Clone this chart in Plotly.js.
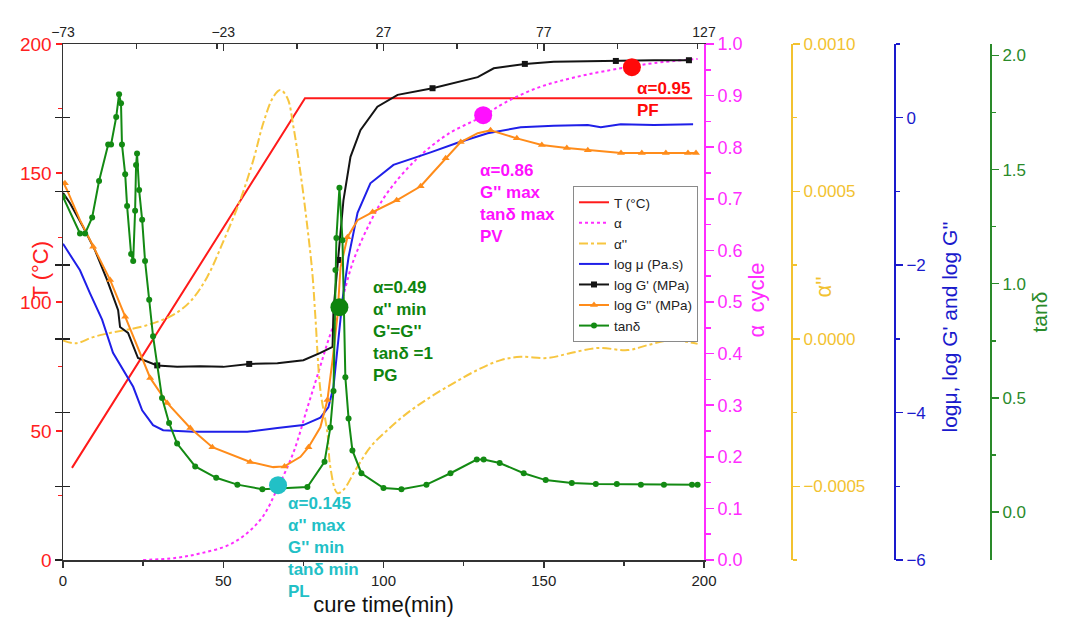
<!DOCTYPE html>
<html>
<head>
<meta charset="utf-8">
<script src="https://cdn.plot.ly/plotly-3.0.1.min.js"></script>
<style>html,body{margin:0;padding:0;background:#fff;}#chart{width:1067px;height:628px;}</style>
</head>
<body>
<div id="chart"></div>
<script>
// ---- data ----
const tempT = [2.8, 75.5, 196.3];
const tempV = [35.7, 179, 179];

const alphaT = [25, 35, 43, 53, 61.6, 67, 72, 76, 80, 83, 86.4, 90.6, 95.9, 101, 110, 120, 131, 137.5, 148, 159.4, 174, 184.4, 198];
const alphaV = [0, 0.004, 0.013, 0.033, 0.078, 0.14, 0.21, 0.29, 0.37, 0.43, 0.49, 0.58, 0.655, 0.71, 0.775, 0.825, 0.86, 0.885, 0.915, 0.935, 0.953, 0.963, 0.971];

const alpha2T = [0, 4, 9.4, 14.7, 24.1, 30, 35, 40, 45, 50, 55.3, 59.4, 62.5, 65.6, 67.8, 70, 71.9, 74.1, 76.25, 77.8, 78.75, 80.3, 82.5, 83.4, 85.6, 87.5, 91.25, 95.9, 101.25, 107.5, 114.7, 121.9, 129.4, 136.6, 142.8, 151.25, 158.4, 166.9, 176.25, 182.5, 189.7, 195, 198];
const alpha2V = [-0.05e-4, -0.15e-4, 0.06e-4, 0.20e-4, 0.40e-4, 0.60e-4, 0.85e-4, 1.30e-4, 2.10e-4, 3.30e-4, 4.71e-4, 6.07e-4, 7.32e-4, 8.20e-4, 8.44e-4, 8.17e-4, 7.19e-4, 5.63e-4, 3.79e-4, 2.23e-4, 0.74e-4, -1.73e-4, -3.19e-4, -4.34e-4, -5.23e-4, -5.12e-4, -4.45e-4, -3.67e-4, -3.09e-4, -2.51e-4, -1.97e-4, -1.50e-4, -1.05e-4, -0.72e-4, -0.61e-4, -0.65e-4, -0.48e-4, -0.31e-4, -0.38e-4, -0.21e-4, -0.04e-4, -0.11e-4, -0.17e-4];

const muT = [0, 3.1, 5.3, 8.4, 12.2, 15.6, 18.75, 21.9, 24.7, 28.1, 31.25, 40.6, 49, 57.5, 66.9, 75, 80.3, 82.8, 84.4, 85.9, 87.2, 89.1, 91.9, 95.9, 103.1, 114.7, 123.1, 132.5, 142.8, 153.1, 163.75, 167.8, 174, 184.4, 196.6];
const muV = [-1.71, -1.93, -2.07, -2.38, -2.74, -3.19, -3.42, -3.65, -3.97, -4.17, -4.24, -4.26, -4.26, -4.26, -4.21, -4.17, -4.07, -3.93, -3.65, -3.02, -2.47, -1.89, -1.29, -0.89, -0.64, -0.47, -0.34, -0.21, -0.13, -0.11, -0.10, -0.13, -0.09, -0.10, -0.09];

const gpT = [0, 2.2, 6.25, 10, 13.75, 17.2, 17.8, 20.3, 23.4, 29.4, 35.6, 42.8, 50, 58.1, 66.9, 75, 80.3, 84.1, 84.4, 85.9, 87.5, 89.7, 92.8, 98.1, 104.4, 115.3, 121.9, 129.4, 134.4, 144.1, 153.1, 163.75, 172.5, 184.4, 195.3];
const gpV = [-1.02, -1.16, -1.48, -1.80, -2.20, -2.61, -2.84, -2.92, -3.26, -3.36, -3.38, -3.37, -3.38, -3.34, -3.33, -3.29, -3.19, -3.11, -2.61, -1.93, -1.12, -0.53, -0.17, 0.15, 0.31, 0.40, 0.47, 0.55, 0.67, 0.73, 0.76, 0.77, 0.77, 0.78, 0.78];
const gpMarkT = [29.4, 58.1, 85.9, 115.3, 144.1, 172.5, 195.3];
const gpMarkV = [-3.36, -3.34, -1.93, 0.40, 0.73, 0.77, 0.78];

const gppT = [0, 1.25, 5.3, 9.4, 14.7, 19.4, 24.1, 27.2, 32.5, 39.7, 46.6, 58.4, 65.6, 69.1, 74.1, 76.6, 80.3, 82.5, 84.1, 85.6, 86.6, 88.75, 91.9, 96.6, 104.1, 111.6, 115.3, 119.4, 124.1, 129.4, 133.4, 141.6, 149.4, 157.2, 163.75, 174.1, 180.6, 188.1, 195, 197.5];
const gppV = [-0.87, -0.98, -1.39, -1.75, -2.20, -2.70, -3.19, -3.53, -3.87, -4.21, -4.47, -4.67, -4.74, -4.73, -4.60, -4.47, -4.20, -3.83, -3.29, -2.70, -2.03, -1.62, -1.39, -1.28, -1.12, -0.93, -0.75, -0.55, -0.33, -0.21, -0.17, -0.28, -0.37, -0.41, -0.44, -0.48, -0.48, -0.48, -0.48, -0.48];
const gppMarkT = [0.6, 9.4, 14.7, 19.4, 27.2, 32.5, 39.7, 46.6, 58.4, 69.1, 76.6, 82.5, 88.75, 96.6, 104.1, 111.6, 119.4, 124.1, 133.4, 141.6, 149.4, 157.2, 163.75, 174.1, 180.6, 188.1, 195, 197.5];
const gppMarkV = [-0.89, -1.75, -2.20, -2.70, -3.53, -3.87, -4.21, -4.47, -4.67, -4.73, -4.47, -3.83, -1.62, -1.28, -1.12, -0.93, -0.55, -0.33, -0.17, -0.28, -0.37, -0.41, -0.44, -0.48, -0.48, -0.48, -0.48, -0.48];

const tanT = [0, 5.3, 6.9, 9.1, 11.25, 14.1, 15, 16.6, 17.5, 18.1, 18.4, 19.4, 20, 21.25, 21.9, 22.5, 22.8, 23.1, 23.75, 24.7, 25.6, 26.9, 28.1, 30.9, 33.1, 35.6, 41.25, 47.8, 54.4, 62.2, 76.25, 81.6, 83.4, 84.4, 85, 85.3, 86.25, 87.2, 88.1, 89.1, 90.3, 93.1, 100, 105.6, 113.4, 120.9, 129.1, 131.25, 136.25, 143.75, 150.6, 158.75, 166.25, 172.8, 180.3, 187.5, 196.25, 198];
const tanV = [1.38, 1.22, 1.22, 1.29, 1.45, 1.61, 1.61, 1.73, 1.83, 1.79, 1.61, 1.48, 1.34, 1.13, 1.10, 1.32, 1.52, 1.57, 1.41, 1.28, 1.10, 0.93, 0.77, 0.50, 0.39, 0.30, 0.20, 0.15, 0.12, 0.10, 0.11, 0.22, 0.37, 0.53, 1.06, 1.20, 1.42, 1.19, 0.59, 0.41, 0.27, 0.17, 0.105, 0.10, 0.12, 0.17, 0.23, 0.23, 0.215, 0.17, 0.14, 0.127, 0.123, 0.123, 0.12, 0.12, 0.12, 0.12];

// key points (on the alpha scale)
const keyT = [67.1, 86.25, 131.1, 177.5];
const keyA = [0.145, 0.49, 0.862, 0.955];
const keyColors = ['#22c0c6', '#0e840e', '#ff10ff', '#ff0a0a'];

const legendNames = ['T (°C)', 'α', "α''", 'log μ (Pa.s)', "log G' (MPa)", "log G'' (MPa)", 'tanδ'];
const logTickVals = [-6, -5, -4, -3, -2, -1, 0];

// ---- styles ----
const C = {
  red: '#ff1a1a', mag: '#ff2cff', yel: '#f7c640', blue: '#1f1fe8', black: '#141414',
  orange: '#ff8c1a', green: '#138a13',
  yelAxis: '#f2c230', blueAxis: '#1a1acc', greenAxis: '#2a8a2a'
};
const FONT = 'Liberation Sans, Arial, Helvetica, sans-serif';

const traces = [
  {x: tempT, y: tempV, xaxis: 'x', yaxis: 'y', mode: 'lines', name: legendNames[0], line: {color: C.red, width: 2}},
  {x: alphaT, y: alphaV, xaxis: 'x', yaxis: 'y2', mode: 'lines', name: legendNames[1], line: {color: C.mag, width: 2, dash: 'dot', shape: 'spline'}},
  {x: alpha2T, y: alpha2V, xaxis: 'x', yaxis: 'y3', mode: 'lines', name: legendNames[2], line: {color: C.yel, width: 2, dash: 'dashdot', shape: 'spline'}},
  {x: muT, y: muV, xaxis: 'x', yaxis: 'y4', mode: 'lines', name: legendNames[3], line: {color: C.blue, width: 2}},
  {x: gpT, y: gpV, xaxis: 'x', yaxis: 'y4', mode: 'lines', showlegend: false, line: {color: C.black, width: 2}},
  {x: gpMarkT, y: gpMarkV, xaxis: 'x', yaxis: 'y4', mode: 'markers', showlegend: false, marker: {color: C.black, size: 6, symbol: 'square'}},
  {x: [null], y: [null], xaxis: 'x', yaxis: 'y4', mode: 'lines+markers', name: legendNames[4], line: {color: C.black, width: 2}, marker: {color: C.black, size: 6, symbol: 'square'}},
  {x: gppT, y: gppV, xaxis: 'x', yaxis: 'y4', mode: 'lines', showlegend: false, line: {color: C.orange, width: 2}},
  {x: gppMarkT, y: gppMarkV, xaxis: 'x', yaxis: 'y4', mode: 'markers', showlegend: false, marker: {color: C.orange, size: 7, symbol: 'triangle-up'}},
  {x: [null], y: [null], xaxis: 'x', yaxis: 'y4', mode: 'lines+markers', name: legendNames[5], line: {color: C.orange, width: 2}, marker: {color: C.orange, size: 7, symbol: 'triangle-up'}},
  {x: tanT, y: tanV, xaxis: 'x', yaxis: 'y5', mode: 'lines+markers', name: legendNames[6], line: {color: C.green, width: 2}, marker: {color: C.green, size: 6}},
  {x: keyT, y: keyA, xaxis: 'x', yaxis: 'y8', mode: 'markers', showlegend: false, marker: {color: keyColors, size: 18}},
  {x: [null], y: [null], xaxis: 'x2', yaxis: 'y', mode: 'lines', showlegend: false},
  {x: [null], y: [null], xaxis: 'x', yaxis: 'y6', mode: 'lines', showlegend: false},
  {x: [null], y: [null], xaxis: 'x', yaxis: 'y7', mode: 'lines', showlegend: false}
];

const W = 1067, ML = 63, MR = 30;
const PW = W - ML - MR;
const px = v => (v - ML) / PW;            // pixel x -> paper
const py = v => (560 - v) / 516;          // pixel y -> paper
const xEnd = px(704);

function rightAxis(color, pos, range, dtick, minor, fmt, extra) {
  return Object.assign({
    overlaying: 'y', side: 'right', anchor: 'free', position: pos, range: range,
    showline: true, linecolor: color, linewidth: 2, ticks: 'outside', ticklen: 7, tickwidth: 1.5, tickcolor: color,
    dtick: dtick, tick0: 0, tickformat: fmt, showgrid: false, zeroline: false,
    minor: {dtick: minor, ticks: 'outside', ticklen: 4, tickcolor: color, tickwidth: 1.5},
    tickfont: {family: FONT, size: 17, color: color}
  }, extra || {});
}

const layout = {
  width: 1067, height: 628,
  margin: {l: ML, r: MR, t: 44, b: 68},
  paper_bgcolor: '#fff', plot_bgcolor: '#fff',
  font: {family: FONT},
  showlegend: true,
  legend: {x: px(573), y: py(186), xanchor: 'left', yanchor: 'top', bgcolor: '#fff', bordercolor: '#8a8a8a', borderwidth: 1,
           font: {family: FONT, size: 13.5, color: '#222'}, tracegroupgap: 0, itemwidth: 30},
  xaxis: {domain: [0, xEnd], range: [0, 200], anchor: 'y', showline: true, linecolor: '#333', linewidth: 1.5,
          ticks: 'outside', ticklen: 6, tickcolor: '#333', tickwidth: 1.5, dtick: 50, tick0: 0,
          minor: {dtick: 25, ticks: 'outside', ticklen: 4, tickcolor: '#333'},
          tickfont: {family: FONT, size: 15, color: '#222'}, showgrid: false, zeroline: false,
          title: {text: 'cure time(min)', font: {family: FONT, size: 22, color: '#111'}, standoff: 9}},
  xaxis2: {overlaying: 'x', side: 'top', anchor: 'y', range: [-73, 127], tick0: -73, dtick: 50,
           showline: true, linecolor: '#333', linewidth: 1.5, ticks: 'inside', ticklen: 7, tickcolor: '#333', tickwidth: 1.5,
           minor: {dtick: 25, ticks: 'inside', ticklen: 5, tickcolor: '#333'},
           tickfont: {family: FONT, size: 14, color: '#222'}, showgrid: false, zeroline: false},
  yaxis: {range: [0, 200], side: 'left', showline: true, linecolor: '#333', linewidth: 1.5,
          ticks: 'outside', ticklen: 6, tickcolor: '#ff2020', tickwidth: 1.5, dtick: 50, tick0: 0,
          minor: {dtick: 25, ticks: 'outside', ticklen: 4, tickcolor: '#ff2020'},
          tickfont: {family: FONT, size: 19, color: '#ff2020'}, showgrid: false, zeroline: false},
  yaxis2: {overlaying: 'y', side: 'right', anchor: 'x', range: [0, 1], dtick: 0.1, tick0: 0, tickformat: '.1f',
           showline: true, linecolor: '#ff2cff', linewidth: 2, ticks: 'outside', ticklen: 8, tickcolor: '#ff2cff', tickwidth: 1.5,
           minor: {dtick: 0.05, ticks: 'outside', ticklen: 5, tickcolor: '#ff2cff'},
           tickfont: {family: FONT, size: 18, color: '#ff2cff'}, showgrid: false, zeroline: false},
  yaxis3: rightAxis(C.yelAxis, px(792), [-0.00075, 0.001], 0.0005, 0.00025, '.4f'),
  yaxis4: rightAxis(C.blueAxis, px(895), [-6, 1], 2, 1, 'd'),
  yaxis5: rightAxis(C.greenAxis, px(991), [-0.21, 2.05], 0.5, 0.25, '.1f'),
  yaxis6: {overlaying: 'y', side: 'left', anchor: 'x', range: [-6, 1], tickmode: 'array', tickvals: logTickVals,
           showticklabels: false, ticks: 'outside', ticklen: 7, tickcolor: '#222', tickwidth: 1.5, showline: false, showgrid: false, zeroline: false},
  yaxis7: {overlaying: 'y', side: 'left', anchor: 'x', range: [-6, 1], tickmode: 'array', tickvals: logTickVals,
           showticklabels: false, ticks: 'inside', ticklen: 7, tickcolor: '#222', tickwidth: 1.5, showline: false, showgrid: false, zeroline: false},
  yaxis8: {overlaying: 'y', range: [0, 1], visible: false},
  annotations: [
    {xref: 'paper', yref: 'paper', x: px(25), y: py(270), text: 'T (°C)', textangle: -90, showarrow: false,
     font: {family: FONT, size: 22, color: '#ff2020'}},
    {xref: 'paper', yref: 'paper', x: px(770), y: py(300), text: 'α  cycle', textangle: -90, showarrow: false,
     font: {family: FONT, size: 22, color: '#ff2cff'}},
    {xref: 'paper', yref: 'paper', x: px(837), y: py(287), text: "α''", textangle: -90, showarrow: false,
     font: {family: FONT, size: 22, color: C.yelAxis}},
    {xref: 'paper', yref: 'paper', x: px(962), y: py(327), text: "logμ, log G' and log G''", textangle: -90, showarrow: false,
     font: {family: FONT, size: 21, color: C.blueAxis}},
    {xref: 'paper', yref: 'paper', x: px(1052), y: py(312), text: 'tanδ', textangle: -90, showarrow: false,
     font: {family: FONT, size: 21, color: C.greenAxis}},
    {xref: 'x', yref: 'paper', x: 69.6, y: py(492), xanchor: 'left', yanchor: 'top', align: 'left', showarrow: false,
     text: "<b>α=0.145<br>α'' max<br>G'' min<br>tanδ min<br>PL</b>", font: {family: FONT, size: 17, color: '#22c0c6'}},
    {xref: 'x', yref: 'paper', x: 96.1, y: py(276), xanchor: 'left', yanchor: 'top', align: 'left', showarrow: false,
     text: "<b>α=0.49<br>α'' min<br>G'=G''<br>tanδ =1<br>PG</b>", font: {family: FONT, size: 17, color: '#0e840e'}},
    {xref: 'x', yref: 'paper', x: 129.5, y: py(159), xanchor: 'left', yanchor: 'top', align: 'left', showarrow: false,
     text: "<b>α=0.86<br>G'' max<br>tanδ max<br>PV</b>", font: {family: FONT, size: 17, color: '#ff10ff'}},
    {xref: 'x', yref: 'paper', x: 178.5, y: py(77), xanchor: 'left', yanchor: 'top', align: 'left', showarrow: false,
     text: "<b>α=0.95<br>PF</b>", font: {family: FONT, size: 17, color: '#ff0a0a'}}
  ]
};

Plotly.newPlot('chart', traces, layout, {displayModeBar: false, staticPlot: true});
</script>
</body>
</html>
